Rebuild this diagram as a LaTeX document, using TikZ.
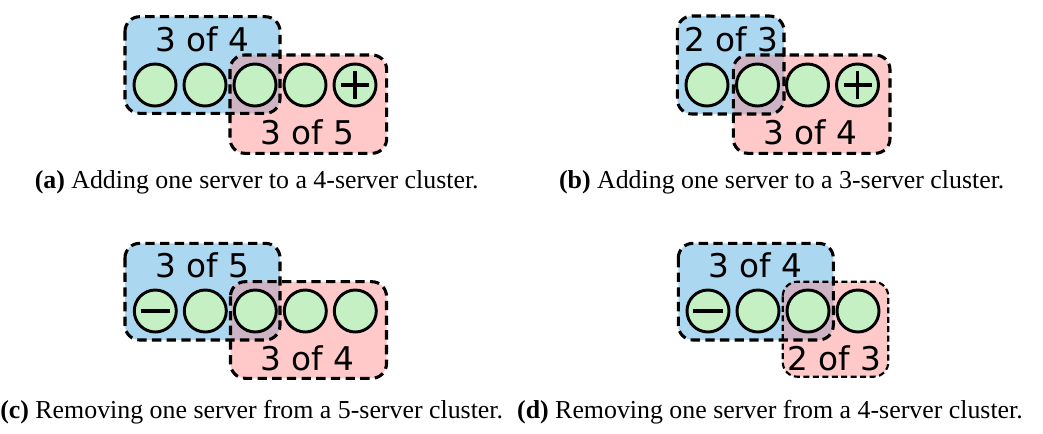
\documentclass[tikz,border=0pt]{standalone}
\usepackage{fontspec}
\setmainfont{Liberation Serif}
\newfontfamily\lblfont{DejaVu Sans}
\definecolor{boxblue}{RGB}{171,215,240}
\definecolor{boxred}{RGB}{255,201,201}
\definecolor{boxmix}{RGB}{205,180,196}
\definecolor{srvgreen}{RGB}{196,240,196}
\tikzset{
  bluefill/.style={fill=boxblue,rounded corners=11pt},
  redfill/.style={fill=boxred,rounded corners=11pt},
  mixfill/.style={fill=boxmix,rounded corners=11pt},
  boxline/.style={draw=black,line width=2.3pt,dash pattern=on 7pt off 4pt,rounded corners=11pt},
  smallline/.style={draw=black,line width=1.6pt,dash pattern=on 4.5pt off 2.6pt,rounded corners=11pt},
  srv/.style={circle,draw=black,fill=srvgreen,line width=2.2pt,minimum size=31.5pt,inner sep=0pt},
  sign/.style={line width=2.8pt},
  lbl/.style={font=\lblfont\fontsize{24.5}{28}\selectfont,anchor=base,inner sep=0pt},
  captxt/.style={font=\fontsize{19.4}{22}\selectfont,anchor=base,inner sep=0pt}
}
\begin{document}
\begin{tikzpicture}[x=0.75pt,y=-0.75pt]
\useasboundingbox (0,0) rectangle (1043,433);

% ---------- panel (a) ----------
\path[bluefill] (125,16.7) rectangle (280,113.3);
\path[redfill] (230,55) rectangle (386.7,153.3);
\begin{scope}
  \clip[rounded corners=11pt] (125,16.7) rectangle (280,113.3);
  \path[mixfill] (230,55) rectangle (386.7,153.3);
\end{scope}
\path[boxline] (125,16.7) rectangle (280,113.3);
\path[boxline] (230,55) rectangle (386.7,153.3);
\node[srv] (a1) at (155,85) {};
\node[srv] (a2) at (205,85) {};
\node[srv] (a3) at (255,85) {};
\node[srv] (a4) at (305,85) {};
\node[srv] (a5) at (355,85) {};
\draw[sign] ([xshift=-10.5pt]a5.center) -- ([xshift=10.5pt]a5.center);
\draw[sign] ([yshift=-10.5pt]a5.center) -- ([yshift=10.5pt]a5.center);
\node[lbl] (aq1) at (202,51.7) {3 of 4};
\node[lbl] (aq2) at (307,144.5) {3 of 5};
\node[captxt] (acap) at (256.7,188) {\textbf{(a)} Adding one server to a 4-server cluster.};

% ---------- panel (b) ----------
\path[bluefill] (677.3,16) rectangle (784,114);
\path[redfill] (733.3,55) rectangle (890,153.3);
\begin{scope}
  \clip[rounded corners=11pt] (677.3,16) rectangle (784,114);
  \path[mixfill] (733.3,55) rectangle (890,153.3);
\end{scope}
\path[boxline] (677.3,16) rectangle (784,114);
\path[boxline] (733.3,55) rectangle (890,153.3);
\node[srv] (b1) at (707,85) {};
\node[srv] (b2) at (757.5,85) {};
\node[srv] (b3) at (807.5,85) {};
\node[srv] (b4) at (857.5,85) {};
\draw[sign] ([xshift=-10.5pt]b4.center) -- ([xshift=10.5pt]b4.center);
\draw[sign] ([yshift=-10.5pt]b4.center) -- ([yshift=10.5pt]b4.center);
\node[lbl] (bq1) at (731,51.7) {2 of 3};
\node[lbl] (bq2) at (810,144.5) {3 of 4};
\node[captxt] (bcap) at (781.7,188) {\textbf{(b)} Adding one server to a 3-server cluster.};

% ---------- panel (c) ----------
\path[bluefill] (125,243.3) rectangle (280,340);
\path[redfill] (230.5,281.7) rectangle (386.5,378.3);
\begin{scope}
  \clip[rounded corners=11pt] (125,243.3) rectangle (280,340);
  \path[mixfill] (230.5,281.7) rectangle (386.5,378.3);
\end{scope}
\path[boxline] (125,243.3) rectangle (280,340);
\path[boxline] (230.5,281.7) rectangle (386.5,378.3);
\node[srv] (c1) at (155.3,311) {};
\node[srv] (c2) at (205.3,311) {};
\node[srv] (c3) at (255.3,311) {};
\node[srv] (c4) at (305.3,311) {};
\node[srv] (c5) at (355.3,311) {};
\draw[line width=3.2pt] ([xshift=-11pt]c1.center) -- ([xshift=11pt]c1.center);
\node[lbl] (cq1) at (202,277.5) {3 of 5};
\node[lbl] (cq2) at (307,370.5) {3 of 4};
\node[captxt] (ccap) at (251.7,418) {\textbf{(c)} Removing one server from a 5-server cluster.};

% ---------- panel (d) ----------
\path[bluefill] (678.3,243.3) rectangle (833.3,340);
\path[redfill] (782.7,281.7) rectangle (888.3,376.7);
\begin{scope}
  \clip[rounded corners=11pt] (678.3,243.3) rectangle (833.3,340);
  \path[mixfill] (782.7,281.7) rectangle (888.3,376.7);
\end{scope}
\path[boxline] (678.3,243.3) rectangle (833.3,340);
\path[smallline] (782.7,281.7) rectangle (888.3,376.7);
\node[srv] (d1) at (708,311) {};
\node[srv] (d2) at (758,311) {};
\node[srv] (d3) at (808,311) {};
\node[srv] (d4) at (858,311) {};
\draw[line width=3.2pt] ([xshift=-11pt]d1.center) -- ([xshift=11pt]d1.center);
\node[lbl] (dq1) at (755,277) {3 of 4};
\node[lbl] (dq2) at (834,370) {2 of 3};
\node[captxt] (dcap) at (770,418) {\textbf{(d)} Removing one server from a 4-server cluster.};
\end{tikzpicture}
\end{document}
